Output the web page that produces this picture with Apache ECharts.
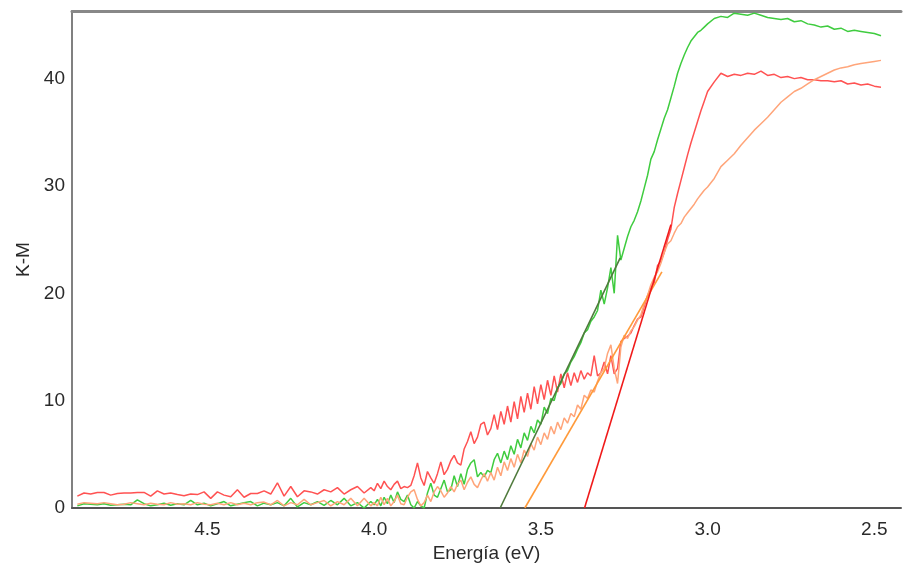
<!DOCTYPE html>
<html>
<head>
<meta charset="utf-8">
<script src="https://cdn.jsdelivr.net/npm/echarts@6/dist/echarts.min.js"></script>
<style>html,body{margin:0;padding:0;background:#fff}#c{width:904px;height:572px}</style>
</head>
<body>
<div id="c"></div>
<script>
// Energy grid (eV)
const energy = [
 4.89,4.87,4.85,4.83,4.81,4.79,4.77,4.75,4.73,4.71,4.69,4.67,4.65,4.63,4.61,4.59,4.57,4.55,4.53,4.51,4.49,4.47,4.45,
 4.43,4.41,4.39,4.37,4.35,4.33,4.31,4.29,4.27,4.25,4.23,4.21,4.19,4.17,4.15,4.13,4.11,4.09,4.07,4.05,4.03,4.01,
 4.00,3.99,3.98,3.97,3.96,3.95,3.94,3.93,3.92,3.91,
 3.90,3.89,3.88,3.87,3.86,3.85,3.84,3.83,3.82,3.81,
 3.80,3.79,3.78,3.77,3.76,3.75,3.74,3.73,3.72,3.71,
 3.70,3.69,3.68,3.67,3.66,3.65,3.64,3.63,3.62,3.61,
 3.60,3.59,3.58,3.57,3.56,3.55,3.54,3.53,3.52,3.51,
 3.50,3.49,3.48,3.47,3.46,3.45,3.44,3.43,3.42,3.41,
 3.40,3.39,3.38,3.37,3.36,3.35,3.34,3.33,3.32,3.31,
 3.30,3.29,3.28,3.27,3.26,3.25,3.24,3.23,3.22,3.21,
 3.20,3.19,3.18,3.17,3.16,3.15,3.14,3.13,3.12,3.11,
 3.10,3.09,3.08,3.07,3.06,3.05,3.04,3.03,3.02,3.01,
 3.00,
 2.98,2.96,2.94,2.92,2.90,2.88,2.86,2.84,2.82,2.80,2.78,2.76,2.74,
 2.72,2.70,2.68,2.66,2.64,2.62,2.60,2.58,2.56,2.54,2.52,2.50,2.48
];

const kmRed = [
 1.1,1.4,1.3,1.45,1.45,1.2,1.35,1.4,1.4,1.45,1.45,1.1,1.6,1.3,1.4,1.25,1.15,1.3,1.25,1.5,0.9,1.5,1.2,
 1.05,1.7,1.0,1.35,1.35,1.6,1.3,2.35,1.1,2.0,1.05,1.6,1.5,1.3,1.7,1.5,1.9,1.3,1.7,2.0,1.4,1.9,
 1.6,2.3,1.8,2.5,2.0,1.7,2.2,2.5,1.8,2.0,
 1.9,2.1,3.0,4.2,2.8,2.1,3.4,2.8,2.3,3.2,
 4.3,3.1,3.6,4.4,4.9,4.2,4.0,5.5,6.2,7.1,
 6.0,6.6,7.8,8.0,6.8,7.4,8.7,7.3,9.0,7.8,
 9.5,8.0,9.9,8.3,10.4,8.9,10.7,9.2,11.3,9.7,
 11.5,10.1,11.9,10.5,12.3,10.8,12.5,11.2,12.6,11.4,
 12.6,11.7,12.8,12.0,12.6,12.3,14.2,12.3,12.6,13.6,
 12.5,14.2,12.5,13.0,15.5,15.8,16.0,16.3,17.0,17.6,
 17.8,18.8,19.8,20.5,21.0,22.6,23.0,23.8,25.0,26.0,
 28.0,29.3,30.5,31.7,32.9,34.0,35.0,36.0,37.0,37.9,
 38.8,
 39.7,40.5,40.2,40.4,40.3,40.5,40.4,40.7,40.3,40.4,40.1,40.2,40.0,
 40.1,39.9,39.9,39.8,39.8,39.7,39.8,39.5,39.6,39.4,39.5,39.3,39.2
];

const kmGreen = [
 0.2,0.4,0.35,0.3,0.4,0.25,0.3,0.35,0.3,0.75,0.4,0.2,0.3,0.45,0.25,0.4,0.3,0.7,0.3,0.45,0.2,0.4,0.6,
 0.2,0.35,0.5,0.6,0.2,0.45,0.3,0.5,0.2,0.9,0.1,0.5,0.3,0.6,0.25,0.7,0.3,0.9,0.2,0.5,0.0,0.6,
 0.3,0.8,0.2,1.0,0.4,1.2,0.5,1.5,0.8,0.6,
 1.2,0.3,0.0,0.6,0.2,0.0,1.4,2.3,1.2,1.0,
 1.8,2.6,1.5,1.7,3.0,2.0,3.2,2.2,3.6,4.2,
 4.5,2.9,3.3,2.9,3.5,3.3,4.5,5.1,4.2,5.3,
 4.5,5.8,5.0,6.4,5.6,7.0,6.3,7.6,7.0,8.2,
 7.8,9.4,8.8,10.2,10.0,11.2,11.6,12.5,12.8,13.6,
 14.1,14.8,15.4,16.3,16.6,17.4,17.8,18.4,20.3,19.0,
 20.5,22.4,20.0,25.4,23.1,24.2,25.3,26.2,26.8,27.6,
 28.6,29.8,31.0,32.5,33.2,34.3,35.3,36.3,37.1,38.2,
 39.3,40.5,41.4,42.2,42.9,43.5,43.9,44.3,44.5,44.8,
 45.1,
 45.6,45.8,45.7,46.1,46.0,45.9,46.1,45.9,45.7,45.6,45.5,45.6,45.3,
 45.4,45.1,45.0,44.8,44.9,44.6,44.7,44.4,44.5,44.4,44.3,44.2,44.0
];

const kmOrange = [
 0.35,0.5,0.45,0.4,0.5,0.4,0.3,0.35,0.5,0.4,0.3,0.45,0.35,0.3,0.5,0.35,0.4,0.3,0.5,0.35,0.3,0.45,0.3,
 0.5,0.3,0.45,0.3,0.5,0.55,0.3,0.7,0.2,0.5,0.3,0.8,0.3,0.5,0.7,0.2,0.6,0.3,0.9,0.2,0.9,0.2,
 0.5,0.2,1.0,0.3,0.9,0.2,0.6,1.2,0.4,0.3,
 1.0,1.5,1.7,0.8,0.2,0.5,1.2,0.6,1.5,2.0,
 1.6,1.0,1.4,2.0,1.5,2.2,2.6,1.7,2.4,2.9,
 2.2,1.9,2.6,3.2,2.5,3.3,2.6,3.8,3.0,4.3,
 3.5,4.6,3.8,5.0,4.2,5.4,4.8,6.0,5.4,6.6,
 5.9,7.0,6.4,7.6,6.9,8.0,7.3,8.4,7.9,8.8,
 8.5,9.6,9.2,10.5,10.2,11.0,10.8,11.8,12.6,13.0,
 14.4,15.2,13.0,11.6,15.0,16.1,15.8,16.5,16.9,17.5,
 18.0,19.0,19.8,20.8,21.5,22.0,22.8,23.8,24.6,24.9,
 25.6,26.2,26.5,27.1,27.5,27.9,28.3,28.8,29.2,29.6,
 29.9,
 30.7,31.8,32.4,33.0,33.8,34.5,35.2,35.8,36.4,37.1,37.8,38.3,38.8,
 39.1,39.5,39.9,40.2,40.5,40.8,41.0,41.1,41.3,41.4,41.5,41.6,41.7
];

// Tangent (band-gap) fit lines: [energy, K-M] end points
const fitGreenE = [3.622, 3.262];
const fitGreenY = [0, 23.3];
const fitOrangeE = [3.548, 3.137];
const fitOrangeY = [0, 22.0];
const fitRedE = [3.369, 3.11];
const fitRedY = [0, 26.4];

const pairs = (xs, ys) => xs.map((x, i) => [x, ys[i]]);
const FONT = '"Liberation Sans", Arial, sans-serif';

const chart = echarts.init(document.getElementById('c'), null, {renderer: 'canvas'});
const dataLine = (data, color) => ({
  type: 'line', data, showSymbol: false, symbol: 'none', silent: true,
  lineStyle: {color, width: 1.5}, z: 2
});
const fitLine = (data, color) => ({
  type: 'line', data, showSymbol: false, symbol: 'none', silent: true,
  lineStyle: {color, width: 1.6}, z: 3
});

chart.setOption({
  animation: false,
  backgroundColor: '#fff',
  grid: {left: 72, right: 0, top: 11, bottom: 64},
  xAxis: [{
    type: 'value', inverse: true, min: 2.42, max: 4.906,
    name: 'Energía (eV)', nameLocation: 'middle', nameGap: 36,
    nameTextStyle: {fontFamily: FONT, fontSize: 19, color: '#2a2a2a'},
    axisLine: {show: true, onZero: false, lineStyle: {color: '#555', width: 2}},
    axisTick: {show: false},
    splitLine: {show: false},
    axisLabel: {
      fontFamily: FONT, fontSize: 19, color: '#2a2a2a', margin: 12,
      formatter: v => (Math.abs(v * 2 - Math.round(v * 2)) < 1e-6 ? v.toFixed(1) : '')
    }
  }, {
    type: 'value', inverse: true, min: 2.42, max: 4.906, position: 'top',
    axisLine: {show: true, onZero: false, lineStyle: {color: '#888', width: 3}},
    axisTick: {show: false}, axisLabel: {show: false}, splitLine: {show: false}
  }],
  yAxis: {
    type: 'value', min: 0, max: 46.3, interval: 10,
    name: 'K-M', nameLocation: 'middle', nameGap: 30,
    nameTextStyle: {fontFamily: FONT, fontSize: 19, color: '#2a2a2a'},
    axisLine: {show: true, lineStyle: {color: '#808080', width: 2}},
    axisTick: {show: false},
    splitLine: {show: false},
    axisLabel: {
      fontFamily: FONT, fontSize: 19, color: '#2a2a2a', margin: 7,
      formatter: v => (Math.abs(v / 10 - Math.round(v / 10)) < 1e-6 ? String(v) : '')
    }
  },
  series: [
    dataLine(pairs(energy, kmRed), '#ff5252'),
    dataLine(pairs(energy, kmGreen), '#3fcc3f'),
    dataLine(pairs(energy, kmOrange), '#ffa57a'),
    fitLine(pairs(fitGreenE, fitGreenY), '#4f7a3c'),
    fitLine(pairs(fitOrangeE, fitOrangeY), '#ff9a3a'),
    fitLine(pairs(fitRedE, fitRedY), '#f01a1a')
  ]
});
</script>
</body>
</html>
